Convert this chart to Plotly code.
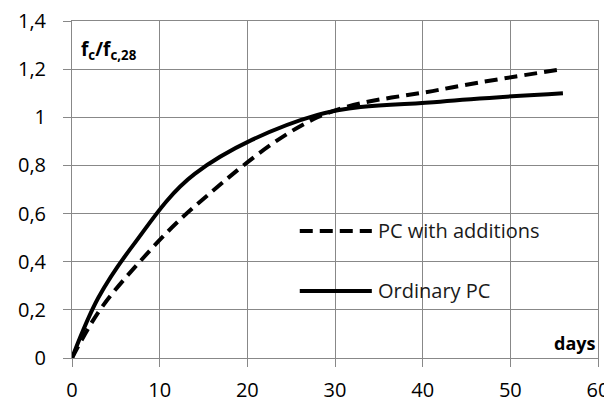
import plotly.graph_objects as go

days = [0, 3, 7, 14, 28, 42, 56]
pc_additions = [0, 0.19, 0.37, 0.63, 1.0, 1.115, 1.2]
ordinary_pc = [0, 0.25, 0.47, 0.765, 1.01, 1.065, 1.1]

series_names = ["PC with additions", "Ordinary PC"]
y_title = "f<sub>c</sub>/f<sub>c,28</sub>"
x_title = "days"

FONT = "Open Sans"
GRID = "#888888"

fig = go.Figure()
fig.add_trace(go.Scatter(x=days, y=pc_additions, mode="lines", name=series_names[0],
                         line=dict(color="black", width=4, dash="13px,7px", shape="spline", smoothing=1),
                         showlegend=False))
fig.add_trace(go.Scatter(x=days, y=ordinary_pc, mode="lines", name=series_names[1],
                         line=dict(color="black", width=4, shape="spline", smoothing=1),
                         showlegend=False))

# legend drawn manually (long line samples as in the original)
leg = [(series_names[0], 0.377, "13px,7px"), (series_names[1], 0.199, "solid")]
for name, yy, dash in leg:
    fig.add_shape(type="line", xref="paper", yref="paper", x0=0.433, x1=0.570, y0=yy, y1=yy,
                  line=dict(color="black", width=4, dash=dash))
    fig.add_annotation(text=name, xref="paper", yref="paper", x=0.578, y=yy,
                       xanchor="left", yanchor="middle", showarrow=False,
                       font=dict(family=FONT, size=20, color="#1a1a1a"))

fig.add_annotation(text="<b>" + y_title + "</b>", xref="paper", yref="paper", x=0.014, y=0.915,
                   xanchor="left", yanchor="middle", showarrow=False,
                   font=dict(family=FONT, size=19, color="black"))
fig.add_annotation(text="<b>" + x_title + "</b>", xref="paper", yref="paper", x=1.0, y=0.045,
                   xanchor="right", yanchor="middle", showarrow=False,
                   font=dict(family=FONT, size=18, color="black"))

# page has an 8px body margin, so the figure is 8px smaller than the window
fig.update_layout(
    width=604, height=394,
    margin=dict(l=64, r=14, t=13, b=44, autoexpand=False),
    paper_bgcolor="white", plot_bgcolor="white",
    separators=", ",
    font=dict(family=FONT, size=20, color="black"),
)
fig.update_xaxes(range=[0, 60], dtick=10, tick0=0, showgrid=True, gridcolor=GRID, gridwidth=1,
                 zeroline=False, showline=True, linecolor=GRID, linewidth=1, mirror=True,
                 ticks="outside", ticklen=8, tickcolor=GRID, ticklabelstandoff=6, automargin=False,
                 ticklabeloverflow="allow",
                 tickfont=dict(family=FONT, size=20, color="black"))
fig.update_yaxes(range=[0, 1.4], dtick=0.2, tick0=0, showgrid=True, gridcolor=GRID, gridwidth=1,
                 zeroline=False, showline=True, linecolor=GRID, linewidth=1, mirror=True,
                 ticks="outside", ticklen=8, tickcolor=GRID, ticklabelstandoff=13, automargin=False,
                 ticklabeloverflow="allow",
                 tickfont=dict(family=FONT, size=20, color="black"))

fig.write_html("out.html")
